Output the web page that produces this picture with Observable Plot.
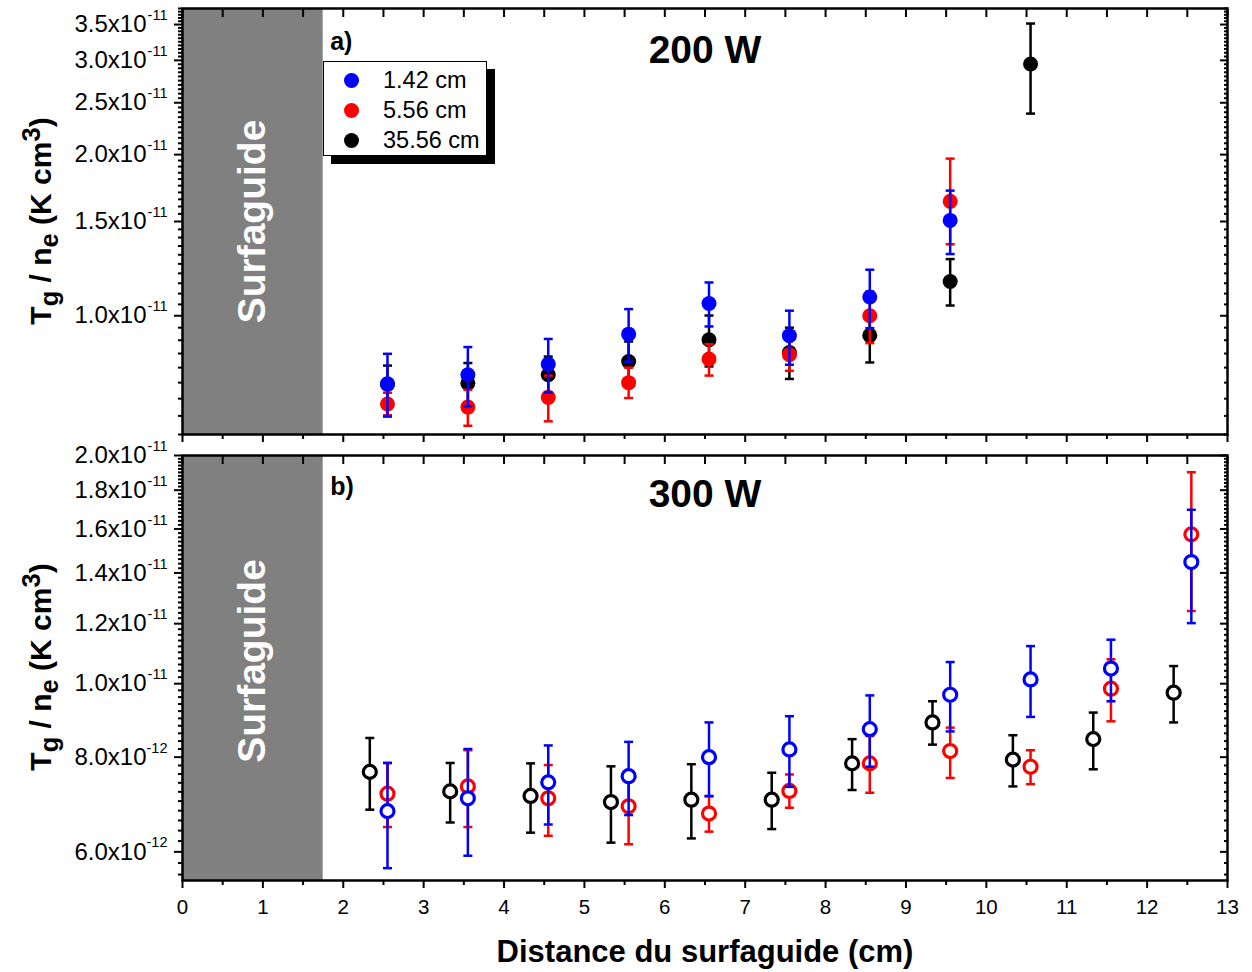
<!DOCTYPE html>
<html><head><meta charset="utf-8">
<script src="https://cdn.jsdelivr.net/npm/d3@7"></script>
<script src="https://cdn.jsdelivr.net/npm/@observablehq/plot@0.6"></script>
<style>
body{margin:0;background:#fff;font-family:"Liberation Sans",Arial,sans-serif;}
#wrap{position:relative;width:1252px;height:972px;overflow:hidden;}
#wrap svg{position:absolute;left:0;display:block;}
.ytitle{position:absolute;left:40px;font-weight:bold;font-size:30px;white-space:nowrap;transform:translate(-50%,-50%) rotate(-90deg);color:#000;}
.ytitle sub,.ytitle sup{font-size:85%;}
.legend{position:absolute;left:323px;top:61px;width:162px;height:93px;border:1px solid #000;background:#fff;box-shadow:8px 8px 0 #000;font-size:23.5px;}
.legend .row{position:absolute;left:0;height:30px;line-height:30px;}
.legend .dot{position:absolute;left:20px;top:8px;width:15px;height:15px;border-radius:50%;}
.legend .lab{position:absolute;left:59px;top:0;white-space:nowrap;}
</style></head>
<body><div id="wrap"></div>
<script>
// ---------- data ----------
const seriesNames = ["1.42 cm", "5.56 cm", "35.56 cm"];
const seriesColors = ["#0000ff", "#ff0000", "#000000"];

// 200 W (panel a)
const x200 = [2.55, 3.55, 4.55, 5.55, 6.55, 7.55, 8.55, 9.55];
const x200Black = [2.55, 3.55, 4.55, 5.55, 6.55, 7.55, 8.55, 9.55, 10.55];
const blue200 = [7.46e-12, 7.76e-12, 8.12e-12, 9.24e-12, 10.54e-12, 9.18e-12, 10.84e-12, 15.07e-12];
const blue200Lo = [6.48e-12, 6.77e-12, 7.19e-12, 8.21e-12, 9.55e-12, 8.10e-12, 9.48e-12, 13.04e-12];
const blue200Hi = [8.49e-12, 8.74e-12, 9.05e-12, 10.29e-12, 11.54e-12, 10.22e-12, 12.19e-12, 17.13e-12];
const red200 = [6.84e-12, 6.75e-12, 7.04e-12, 7.50e-12, 8.30e-12, 8.46e-12, 10.00e-12, 16.36e-12];
const red200Lo = [6.52e-12, 6.23e-12, 6.35e-12, 7.02e-12, 7.73e-12, 7.89e-12, 8.89e-12, 13.60e-12];
const red200Hi = [7.18e-12, 7.27e-12, 7.73e-12, 8.00e-12, 8.85e-12, 9.02e-12, 11.10e-12, 19.66e-12];
const black200 = [7.45e-12, 7.48e-12, 7.76e-12, 8.21e-12, 9.02e-12, 8.54e-12, 9.19e-12, 11.59e-12, 29.54e-12];
const black200Lo = [6.85e-12, 6.88e-12, 7.15e-12, 7.55e-12, 8.04e-12, 7.62e-12, 8.18e-12, 10.45e-12, 23.86e-12];
const black200Hi = [8.07e-12, 8.16e-12, 8.39e-12, 8.95e-12, 10.01e-12, 9.50e-12, 10.20e-12, 12.76e-12, 35.15e-12];

// 300 W (panel b)
const x300 = [2.55, 3.55, 4.55, 5.55, 6.55, 7.55, 8.55, 9.55, 10.55, 11.55, 12.55];
const x300Black = [2.33, 3.33, 4.33, 5.33, 6.33, 7.33, 8.33, 9.33, 10.33, 11.33, 12.33];
const blue300 = [6.79e-12, 7.06e-12, 7.41e-12, 7.55e-12, 8.00e-12, 8.19e-12, 8.71e-12, 9.67e-12, 10.13e-12, 10.47e-12, 14.47e-12];
const blue300Lo = [5.71e-12, 5.93e-12, 6.52e-12, 6.71e-12, 7.11e-12, 7.31e-12, 7.77e-12, 8.65e-12, 9.04e-12, 9.48e-12, 12.02e-12];
const blue300Hi = [7.86e-12, 8.20e-12, 8.29e-12, 8.38e-12, 8.89e-12, 9.06e-12, 9.65e-12, 10.68e-12, 11.21e-12, 11.43e-12, 16.96e-12];
const red300 = [7.16e-12, 7.32e-12, 7.06e-12, 6.89e-12, 6.74e-12, 7.22e-12, 7.85e-12, 8.15e-12, 7.77e-12, 9.85e-12, 15.74e-12];
const red300Lo = [6.47e-12, 6.47e-12, 6.30e-12, 6.14e-12, 6.38e-12, 6.86e-12, 7.18e-12, 7.51e-12, 7.37e-12, 8.92e-12, 12.47e-12];
const red300Hi = [7.86e-12, 8.17e-12, 7.81e-12, 7.63e-12, 7.10e-12, 7.59e-12, 8.53e-12, 8.75e-12, 8.17e-12, 10.77e-12, 19.01e-12];
const black300 = [7.65e-12, 7.21e-12, 7.11e-12, 6.98e-12, 7.03e-12, 7.03e-12, 7.85e-12, 8.89e-12, 7.94e-12, 8.45e-12, 9.73e-12];
const black300Lo = [6.82e-12, 6.56e-12, 6.36e-12, 6.17e-12, 6.25e-12, 6.43e-12, 7.24e-12, 8.31e-12, 7.32e-12, 7.71e-12, 8.89e-12];
const black300Hi = [8.48e-12, 7.86e-12, 7.85e-12, 7.78e-12, 7.83e-12, 7.63e-12, 8.45e-12, 9.48e-12, 8.55e-12, 9.16e-12, 10.55e-12];

// axes
const xDomain = [0, 13];
const xMajorTicks = [0,1,2,3,4,5,6,7,8,9,10,11,12,13];
const xMinorTicks = [0.5,1.5,2.5,3.5,4.5,5.5,6.5,7.5,8.5,9.5,10.5,11.5,12.5];
const yDomainTop = [6.0e-12, 3.75e-11];
const yTicksTop = [1.0e-11, 1.5e-11, 2.0e-11, 2.5e-11, 3.0e-11, 3.5e-11];
const yDomainBottom = [5.5e-12, 2.0e-11];
const yTicksBottom = [6.0e-12, 8.0e-12, 1.0e-11, 1.2e-11, 1.4e-11, 1.6e-11, 1.8e-11, 2.0e-11];
const surfaguide = {x1: 0, x2: 1.75, label: "Surfaguide"};
const xLabel = "Distance du surfaguide (cm)";

// ---------- helpers ----------
const rows = (xs, v, lo, hi) => xs.map((x, i) => ({x, v: v[i], lo: lo[i], hi: hi[i]}));
const expOf = v => Math.floor(Math.log10(v) + 1e-9);
const mant = v => (v / Math.pow(10, expOf(v))).toFixed(1) + "x10";
const expTxt = v => String(expOf(v));
const capSymbol = {draw(ctx, size) { const w = Math.sqrt(size / Math.PI); ctx.moveTo(-w, 0); ctx.lineTo(w, 0); }};
function minorTicks(lo, hi, step, majors) {
  const out = [];
  for (let k = Math.ceil(lo / step - 1e-6); k * step <= hi * (1 + 1e-9); k++) {
    const v = k * step;
    if (v < lo * (1 - 1e-9)) continue;
    if (!majors.some(m => Math.abs(m - v) < step * 1e-3)) out.push(v);
  }
  return out;
}

function seriesMarks(data, color, hollow) {
  return [
    Plot.ruleX(data, {x: "x", y1: "lo", y2: "hi", stroke: color, strokeWidth: 2.5}),
    Plot.dot(data, {x: "x", y: "lo", symbol: capSymbol, r: 4.5, stroke: color, strokeWidth: 2.5, fill: "none"}),
    Plot.dot(data, {x: "x", y: "hi", symbol: capSymbol, r: 4.5, stroke: color, strokeWidth: 2.5, fill: "none"}),
    hollow
      ? Plot.dot(data, {x: "x", y: "v", r: 6.5, stroke: color, strokeWidth: 3.2, fill: "white"})
      : Plot.dot(data, {x: "x", y: "v", r: 7.5, fill: color, stroke: "none"})
  ];
}

function panel({height, marginTop, marginBottom, yDomain, yTicks, yMinor, series, hollow, tag, tagDy, title, titleDy, surfDy, showX}) {
  const marks = [
    Plot.rect([surfaguide], {x1: "x1", x2: "x2", y1: () => yDomain[0], y2: () => yDomain[1], fill: "#808080"}),
    Plot.text([surfaguide], {x: d => (d.x1 + d.x2) / 2, frameAnchor: "middle", dy: surfDy, text: "label", rotate: -90, fill: "white", fontWeight: "bold", fontSize: 39}),
    ...series.flatMap(s => seriesMarks(s.data, s.color, hollow)),
    Plot.axisY({anchor: "left", ticks: yTicks, tickSize: 8, strokeWidth: 2, tickFormat: () => "", label: null}),
    Plot.axisY({anchor: "left", ticks: yMinor, tickSize: 4, strokeWidth: 2, tickFormat: () => "", label: null}),
    Plot.axisY({anchor: "right", ticks: yTicks, tickSize: 8, dx: -8, strokeWidth: 2, tickFormat: () => "", label: null}),
    Plot.axisY({anchor: "right", ticks: yMinor, tickSize: 4, dx: -4, strokeWidth: 2, tickFormat: () => "", label: null}),
    Plot.axisX({anchor: "top", ticks: xMajorTicks, tickSize: 8, dy: 8, strokeWidth: 2, tickFormat: () => "", label: null}),
    Plot.axisX({anchor: "top", ticks: xMinorTicks, tickSize: 8, dy: 8, strokeWidth: 2, tickFormat: () => "", label: null}),
    Plot.axisX({anchor: "bottom", ticks: xMajorTicks, tickSize: 8, tickPadding: 11, strokeWidth: 2, fontSize: 20.5,
      tickFormat: showX ? (d => String(d)) : (() => ""), label: null}),
    Plot.axisX({anchor: "bottom", ticks: xMinorTicks, tickSize: 5, strokeWidth: 2, tickFormat: () => "", label: null}),
    Plot.text(yTicks, {y: d => d, frameAnchor: "left", text: mant, textAnchor: "end", dx: -36, fontSize: 24}),
    Plot.text(yTicks, {y: d => d, frameAnchor: "left", text: expTxt, textAnchor: "end", dx: -15, dy: -9, fontSize: 14.5}),
    Plot.frame({stroke: "black", strokeWidth: 2.5}),
    Plot.text([tag], {x: () => surfaguide.x2, frameAnchor: "top", dx: 7, dy: tagDy, textAnchor: "start", lineAnchor: "middle", fontSize: 25, fontWeight: "bold"}),
    Plot.text([title], {frameAnchor: "top", dy: titleDy, lineAnchor: "middle", fontSize: 39, fontWeight: "bold"})
  ];
  if (showX) marks.push(Plot.text([xLabel], {frameAnchor: "bottom", dy: 81, lineAnchor: "bottom", fontSize: 31, fontWeight: "bold"}));
  return Plot.plot({
    width: 1252, height, marginLeft: 182, marginRight: 25, marginTop, marginBottom,
    style: {fontFamily: "'Liberation Sans', Arial, sans-serif", fontSize: "20px", color: "black", background: "white", overflow: "visible"},
    x: {domain: xDomain},
    y: {type: "log", domain: yDomain},
    marks
  });
}

const plotTop = panel({
  height: 445, marginTop: 8, marginBottom: 11,
  yDomain: yDomainTop, yTicks: yTicksTop,
  yMinor: minorTicks(yDomainTop[0], yDomainTop[1], 0.5e-12, yTicksTop),
  series: [
    {data: rows(x200Black, black200, black200Lo, black200Hi), color: seriesColors[2]},
    {data: rows(x200, red200, red200Lo, red200Hi), color: seriesColors[1]},
    {data: rows(x200, blue200, blue200Lo, blue200Hi), color: seriesColors[0]}
  ],
  hollow: false, tag: "a)", tagDy: 33.5, title: "200 W", titleDy: 42.5, surfDy: 0, showX: false
});
const plotBottom = panel({
  height: 527, marginTop: 10, marginBottom: 92,
  yDomain: yDomainBottom, yTicks: yTicksBottom,
  yMinor: minorTicks(yDomainBottom[0], yDomainBottom[1], 0.2e-12, yTicksBottom),
  series: [
    {data: rows(x300Black, black300, black300Lo, black300Hi), color: seriesColors[2]},
    {data: rows(x300, red300, red300Lo, red300Hi), color: seriesColors[1]},
    {data: rows(x300, blue300, blue300Lo, blue300Hi), color: seriesColors[0]}
  ],
  hollow: true, tag: "b)", tagDy: 31, title: "300 W", titleDy: 39, surfDy: -7, showX: true
});

const wrap = document.getElementById("wrap");
plotTop.style.top = "0px";
plotBottom.style.top = "445px";
wrap.appendChild(plotTop);
wrap.appendChild(plotBottom);

for (const cy of [221, 667]) {
  const t = document.createElement("div");
  t.className = "ytitle";
  t.style.top = cy + "px";
  t.innerHTML = "T<sub>g</sub> / n<sub>e</sub> (K cm<sup>3</sup>)";
  wrap.appendChild(t);
}

const lg = document.createElement("div");
lg.className = "legend";
seriesNames.forEach((name, i) => {
  const r = document.createElement("div");
  r.className = "row";
  r.style.top = (3 + i * 30) + "px";
  r.style.width = "160px";
  r.innerHTML = `<span class="dot" style="background:${seriesColors[i]}"></span><span class="lab">${name}</span>`;
  lg.appendChild(r);
});
wrap.appendChild(lg);
</script></body></html>
